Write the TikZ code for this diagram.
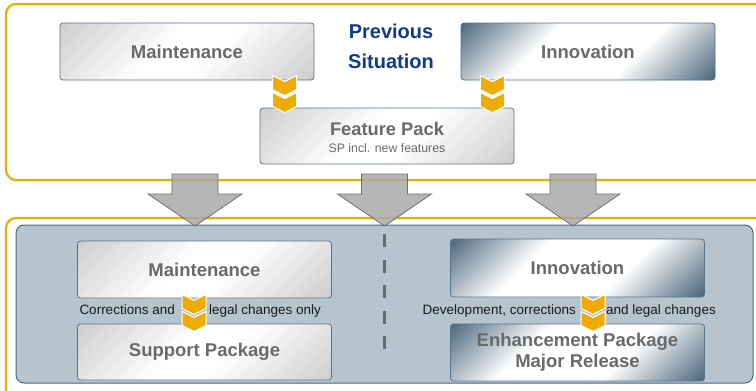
\documentclass[tikz,border=0pt]{standalone}
\usepackage{fontspec}
\setmainfont{Liberation Sans}
\usetikzlibrary{calc}
\definecolor{sapor}{HTML}{F0AB00}
\definecolor{slate}{HTML}{4A667C}
\definecolor{boxborder}{HTML}{56748C}
\definecolor{panel}{HTML}{B5C4CD}
\definecolor{panelborder}{HTML}{46698A}
\definecolor{labgray}{HTML}{6A6A6A}
\definecolor{navy}{HTML}{113B8A}
\definecolor{arrowgray}{HTML}{A9A9A9}
\definecolor{arrowedge}{HTML}{6F6F6F}
\definecolor{dashgray}{HTML}{6B6B6B}
\definecolor{lightg}{HTML}{C8C8C8}
\definecolor{txtdark}{HTML}{1A1A1A}
% diagonal gradient drawn as strips: #1 colour, #2 max percent, #3 fade length (fraction)
\newcommand\gradstrips[3]{%
  \foreach \i in {0,...,99}{%
    \pgfmathsetmacro\ax{\i/100*151.2}%
    \pgfmathsetmacro\ay{\i/100*156.4}%
    \pgfmathsetmacro\bx{(\i+1.6)/100*151.2}%
    \pgfmathsetmacro\by{(\i+1.6)/100*156.4}%
    \pgfmathsetmacro\tm{(\i+0.5)/100}%
    \pgfmathsetmacro\ff{#2*max(0,1-\tm/#3)+#2*max(0,1-(1-\tm)/#3)}%
    \fill[#1!\ff!white]
      ($(path picture bounding box.north west)+(\ax-215.7,\ay+208.5)$) --
      ($(path picture bounding box.north west)+(\ax+215.7,\ay-208.5)$) --
      ($(path picture bounding box.north west)+(\bx+215.7,\by-208.5)$) --
      ($(path picture bounding box.north west)+(\bx-215.7,\by+208.5)$) -- cycle;
  }%
}
\tikzset{
  box/.style={draw=boxborder, line width=0.8pt, rounded corners=3pt, fill=white,
    minimum width=254pt, minimum height=57pt, inner sep=0pt,
    text=labgray, font=\fontsize{18.5}{21}\selectfont\bfseries, align=center},
  graybox/.style={box, path picture={\gradstrips{lightg}{90}{0.42}}},
  innovbox/.style={box, path picture={\gradstrips{slate}{100}{0.33}}},
  frame/.style={draw=sapor, line width=2.2pt, rounded corners=10pt},
  smalllab/.style={inner sep=0pt, text=txtdark, font=\fontsize{13.5}{16}\selectfont},
  chev/.pic={
    \foreach \dy in {0,17}{
      \filldraw[fill=sapor, draw=white, line width=1pt]
        (-12,\dy) -- (0,\dy+6) -- (12,\dy) -- (12,\dy+14) -- (0,\dy+20) -- (-12,\dy+14) -- cycle;
    }
  },
  bigarrow/.pic={
    \filldraw[fill=arrowgray, fill opacity=0.85, draw=arrowedge, line width=0.8pt]
      (-23,-52) -- (23,-52) -- (23,-32) -- (47,-32) -- (0,0) -- (-47,-32) -- (-23,-32) -- cycle;
  }
}
\begin{document}
\begin{tikzpicture}[x=1pt,y=-1pt]
\useasboundingbox (0,0) rectangle (756,391);
\clip (0,0) rectangle (756,391);
% frames
\draw[frame] (6,4) rectangle (772,180);
\draw[frame] (6,218) rectangle (772,402);
\draw[fill=panel, draw=panelborder, line width=1pt, rounded corners=8pt] (16,225) rectangle (753,383);
% big arrows
\pic at (195,226) {bigarrow};
\pic at (384.5,226) {bigarrow};
\pic at (573,226) {bigarrow};
% dashed separator
\draw[dashgray, line width=3pt, dash pattern=on 13pt off 12.5pt] (384,234) -- (384,352);
% title
\node[inner sep=0pt, text=navy, font=\fontsize{20}{30}\selectfont\bfseries, align=center] (prev) at (391,45.9) {Previous\\Situation};
% top boxes
\node[graybox] (mt) at (187,51.5) {Maintenance};
\node[innovbox] (it) at (588,51.5) {Innovation};
\node[graybox, minimum height=56pt] (fp) at (387,136) {};
\node[anchor=base, inner sep=0pt, text=labgray, font=\fontsize{18.3}{21}\selectfont\bfseries] (fpt) at (387,135) {Feature Pack};
\node[anchor=base, inner sep=0pt, text=labgray, font=\fontsize{12.3}{14}\selectfont] (fps) at (387,152.7) {SP incl. new features};
% bottom boxes
\node[graybox] (mb) at (204.5,269.5) {Maintenance};
\node[graybox, minimum height=56pt] (sp) at (204.5,352) {Support Package};
\node[innovbox, minimum height=58pt] (ib) at (577.5,268) {Innovation};
\node[innovbox] (ep) at (577.5,352.5) {Enhancement Package\\Major Release};
% labels
\node[smalllab, anchor=base east] (l1) at (175,314) {Corrections and};
\node[smalllab, anchor=base west] (l2) at (209,314) {legal changes only};
\node[smalllab, anchor=base east] (r1) at (576,314) {Development, corrections};
\node[smalllab, anchor=base west] (r2) at (606,314) {and legal changes};
% chevrons
\pic at ($(fp.north west)+(25,-32)$) {chev};
\pic at ($(fp.north east)+(-22,-32)$) {chev};
\pic at ($(mb.south)+(-10.5,-4)$) {chev};
\pic at ($(ib.south)+(15.5,-3)$) {chev};
\end{tikzpicture}
\end{document}
